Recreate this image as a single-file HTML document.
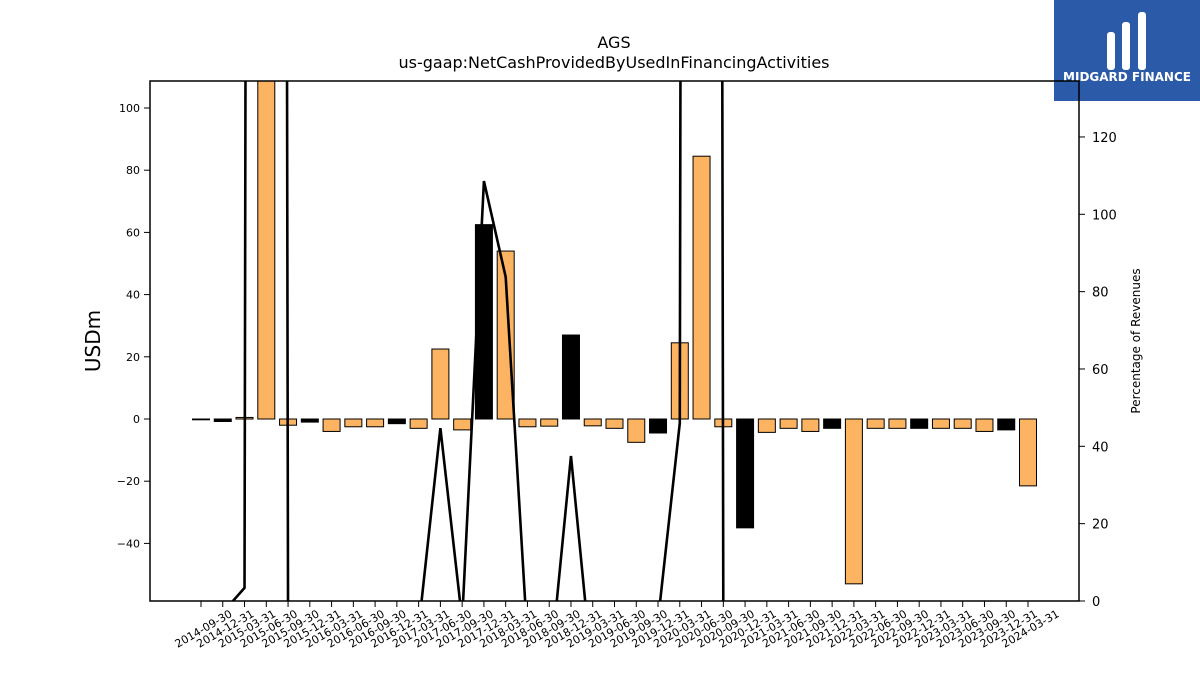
<!DOCTYPE html>
<html><head><meta charset="utf-8"><style>
body{margin:0;background:#fff;font-family:"Liberation Sans","DejaVu Sans",sans-serif;overflow:hidden}
svg text{font-family:"DejaVu Sans","Liberation Sans",sans-serif}
</style></head><body>
<svg id="c" width="1200" height="675" xmlns="http://www.w3.org/2000/svg" style="display:block">
<rect x="1054" y="0" width="146" height="101" fill="#2b5aa8"/>
<g fill="#fff">
<rect x="1107" y="32" width="8" height="38" rx="3"/><rect x="1122" y="22" width="8" height="48" rx="3"/><rect x="1138" y="12" width="8" height="58" rx="3"/>
</g>
<text x="1127" y="81" fill="#fff" font-size="12" font-weight="bold" text-anchor="middle">MIDGARD FINANCE</text>
<text x="614" y="48" font-size="16" text-anchor="middle">AGS</text>
<text x="614" y="68" font-size="16" text-anchor="middle">us-gaap:NetCashProvidedByUsedInFinancingActivities</text>
<text transform="translate(100,341) rotate(-90)" font-size="20" text-anchor="middle">USDm</text>
<text transform="translate(1140,341) rotate(-90)" font-size="12" text-anchor="middle">Percentage of Revenues</text>
<defs><clipPath id="pc"><rect x="150" y="81" width="929" height="520"/></clipPath></defs>
<g id="bars" clip-path="url(#pc)"></g>
<g id="line" clip-path="url(#pc)"></g>
<g id="axes"></g>
<rect x="150" y="81" width="929" height="520" fill="none" stroke="#000" stroke-width="1.5"/>
</svg>
<script>
const categories=["2014-09-30","2014-12-31","2015-03-31","2015-06-30","2015-09-30","2015-12-31","2016-03-31","2016-06-30","2016-09-30","2016-12-31","2017-03-31","2017-06-30","2017-09-30","2017-12-31","2018-03-31","2018-06-30","2018-09-30","2018-12-31","2019-03-31","2019-06-30","2019-09-30","2019-12-31","2020-03-31","2020-06-30","2020-09-30","2020-12-31","2021-03-31","2021-06-30","2021-09-30","2021-12-31","2022-03-31","2022-06-30","2022-09-30","2022-12-31","2023-03-31","2023-06-30","2023-09-30","2023-12-31","2024-03-31"];
const cashFlow=[-0.2,-0.8,0.5,115,-2,-1,-4,-2.5,-2.5,-1.5,-3,22.5,-3.5,62.5,54,-2.5,-2.3,27,-2.2,-3,-7.5,-4.5,24.5,84.5,-2.5,-35,-4.3,-3,-4,-3,-53,-3,-3,-3,-3,-3,-4,-3.5,-21.5];
const pctRevenue=[-20,-3,3.4,3000,-5,-50,-50,-50,-50,-50,-7,44.7,-5,108.6,83.8,-10,-20,37.5,-20,-50,-20,-5,46,3000,-5,-50,-50,-50,-50,-50,-50,-50,-50,-50,-50,-50,-50,-50,-50];
const leftTicks=[-40,-20,0,20,40,60,80,100];
const rightTicks=[0,20,40,60,80,100,120];
const NS="http://www.w3.org/2000/svg";
const x=i=>201+i*(1028-201)/38;
const y=v=>419-v*3.11;
const y2=v=>601-v*3.867;
function mk(t,a,p){const e=document.createElementNS(NS,t);for(const k in a)e.setAttribute(k,a[k]);p.appendChild(e);return e;}
const bars=document.getElementById('bars'),axes=document.getElementById('axes'),line=document.getElementById('line');
cashFlow.forEach((v,i)=>{
 const q4=categories[i].endsWith('12-31');
 const r=mk('rect',{x:x(i)-8.5,y:Math.min(y(v),y(0)),width:17,height:Math.max(Math.abs(y(v)-y(0)),0.8),fill:q4?'#000':'#fdb462',stroke:'#000','stroke-width':1},bars);
 
 
});
const pl=mk('polyline',{points:pctRevenue.map((v,i)=>x(i)+','+y2(v)).join(' '),fill:'none',stroke:'#000','stroke-width':2.6},line);


leftTicks.forEach(t=>{
 mk('line',{x1:144,x2:150,y1:y(t),y2:y(t),stroke:'#000'},axes);
 const tx=mk('text',{x:140,y:y(t)+4,'font-size':11,'text-anchor':'end'},axes);
 tx.textContent=t<0?'\u2212'+(-t):t;
 
 
});
rightTicks.forEach(t=>{
 mk('line',{x1:1079,x2:1085,y1:y2(t),y2:y2(t),stroke:'#000'},axes);
 const tx=mk('text',{x:1092,y:y2(t)+5,'font-size':13},axes);
 tx.textContent=t;
 
 
});
categories.forEach((c,i)=>{
 mk('line',{x1:x(i),x2:x(i),y1:601,y2:607,stroke:'#000'},axes);
 const tx=mk('text',{transform:`translate(${x(i)+32},${616}) rotate(-30)`,'font-size':11,'text-anchor':'end'},axes);
 tx.textContent=c;
 
 
});
</script>
</body></html>
